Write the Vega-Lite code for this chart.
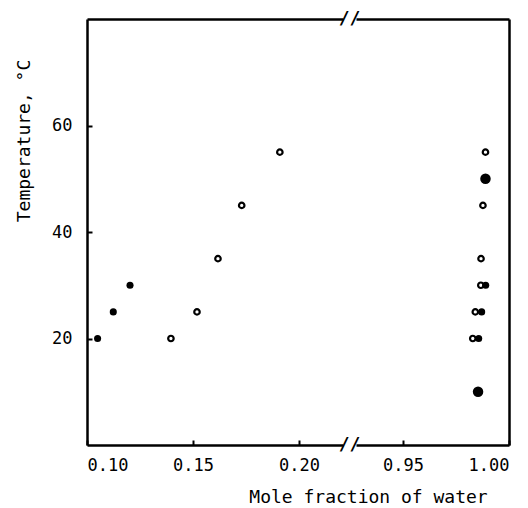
{
  "$schema": "https://vega.github.io/schema/vega-lite/v6.json",
  "padding": {"left": 14, "top": 10, "right": 5, "bottom": 0},
  "background": "white",
  "config": {
    "view": {"stroke": null},
    "font": "DejaVu Sans Mono",
    "axis": {
      "labelFont": "DejaVu Sans Mono",
      "titleFont": "DejaVu Sans Mono",
      "labelColor": "black",
      "titleColor": "black",
      "domainColor": "black",
      "tickColor": "black",
      "grid": false,
      "titleFontWeight": "normal",
      "labelFontWeight": "normal",
      "domainWidth": 2.5
    }
  },
  "datasets": {
    "left": [
      {"x": 0.1050, "t": 20, "kind": "filled"},
      {"x": 0.1124, "t": 25, "kind": "filled"},
      {"x": 0.1203, "t": 30, "kind": "filled"},
      {"x": 0.1396, "t": 20, "kind": "open"},
      {"x": 0.1519, "t": 25, "kind": "open"},
      {"x": 0.1618, "t": 35, "kind": "open"},
      {"x": 0.1730, "t": 45, "kind": "open"},
      {"x": 0.1910, "t": 55, "kind": "open"}
    ],
    "right": [
      {"x": 0.9889, "t": 55, "kind": "open"},
      {"x": 0.9889, "t": 50, "kind": "large"},
      {"x": 0.9877, "t": 45, "kind": "open"},
      {"x": 0.9868, "t": 35, "kind": "open"},
      {"x": 0.9867, "t": 30, "kind": "open"},
      {"x": 0.9890, "t": 30, "kind": "filled"},
      {"x": 0.9841, "t": 25, "kind": "open"},
      {"x": 0.9871, "t": 25, "kind": "filled"},
      {"x": 0.9829, "t": 20, "kind": "open"},
      {"x": 0.9857, "t": 20, "kind": "filled"},
      {"x": 0.9854, "t": 10, "kind": "large"}
    ]
  },
  "bounds": "flush",
  "spacing": 13,
  "hconcat": [
    {
      "width": 256,
      "height": 426,
      "resolve": {"axis": {"x": "independent", "y": "independent"}},
      "layer": [
        {
          "data": {"name": "left"},
          "transform": [{"filter": "datum.kind === 'open'"}],
          "mark": {"type": "point", "shape": "circle", "filled": false, "stroke": "black", "strokeWidth": 2.2, "size": 30, "opacity": 1},
          "encoding": {
            "x": {"field": "x", "type": "quantitative", "scale": {"domain": [0.10, 0.2208], "nice": false, "zero": false},
              "axis": {"orient": "bottom", "values": [0.10, 0.15, 0.20], "format": ".2f", "tickSize": -5, "tickWidth": 2, "labelFontSize": 17, "labelPadding": 17,
                "title": "Mole fraction of water", "titleFontSize": 18, "titleX": 281, "titleY": 57, "titleAlign": "center", "titleBaseline": "alphabetic"}},
            "y": {"field": "t", "type": "quantitative", "scale": {"domain": [0, 80], "nice": false},
              "axis": {"orient": "left", "values": [20, 40, 60], "tickSize": -5, "tickWidth": 2, "labelFontSize": 17, "labelPadding": 20,
                "title": "Temperature,  °C", "titleFontSize": 18, "titleX": -63, "titleY": 121.5, "titleAngle": -90, "titleAlign": "center", "titleBaseline": "middle"}}
          }
        },
        {
          "data": {"name": "left"},
          "transform": [{"filter": "datum.kind === 'filled'"}],
          "mark": {"type": "circle", "color": "black", "size": 50, "opacity": 1},
          "encoding": {
            "x": {"field": "x", "type": "quantitative", "axis": {"orient": "top", "ticks": false, "labels": false, "title": null}},
            "y": {"field": "t", "type": "quantitative", "axis": null}
          }
        },
        {
          "data": {"values": [{}]},
          "mark": {"type": "text", "text": "//", "font": "DejaVu Sans Mono", "fontSize": 18, "fontWeight": "bold", "dx": 6.5, "align": "center", "baseline": "middle", "color": "black"},
          "encoding": {
            "x": {"datum": 0.2208, "type": "quantitative", "axis": null},
            "y": {"datum": 80, "type": "quantitative", "axis": null}
          }
        },
        {
          "data": {"values": [{}]},
          "mark": {"type": "text", "text": "//", "font": "DejaVu Sans Mono", "fontSize": 18, "fontWeight": "bold", "dx": 6.5, "align": "center", "baseline": "middle", "color": "black"},
          "encoding": {
            "x": {"datum": 0.2208, "type": "quantitative", "axis": null},
            "y": {"datum": 0, "type": "quantitative", "axis": null}
          }
        }
      ]
    },
    {
      "width": 153,
      "height": 426,
      "data": {"name": "right"},
      "resolve": {"axis": {"x": "independent", "y": "independent"}},
      "layer": [
        {
          "transform": [{"filter": "datum.kind === 'open'"}],
          "mark": {"type": "point", "shape": "circle", "filled": false, "stroke": "black", "strokeWidth": 2.2, "size": 30, "opacity": 1},
          "encoding": {
            "x": {"field": "x", "type": "quantitative", "scale": {"domain": [0.9278, 1.00], "nice": false, "zero": false},
              "axis": {"orient": "bottom", "values": [0.95, 1.00], "format": ".2f", "tickSize": -5, "tickWidth": 2, "labelFontSize": 17, "labelPadding": 17, "title": null}},
            "y": {"field": "t", "type": "quantitative", "scale": {"domain": [0, 80], "nice": false},
              "axis": {"orient": "right", "ticks": false, "labels": false, "title": null}}
          }
        },
        {
          "transform": [{"filter": "datum.kind === 'filled'"}],
          "mark": {"type": "circle", "color": "black", "size": 50, "opacity": 1},
          "encoding": {
            "x": {"field": "x", "type": "quantitative", "axis": {"orient": "top", "ticks": false, "labels": false, "title": null}},
            "y": {"field": "t", "type": "quantitative", "axis": null}
          }
        },
        {
          "transform": [{"filter": "datum.kind === 'large'"}],
          "mark": {"type": "circle", "color": "black", "size": 110, "opacity": 1},
          "encoding": {
            "x": {"field": "x", "type": "quantitative", "axis": null},
            "y": {"field": "t", "type": "quantitative", "axis": null}
          }
        }
      ]
    }
  ]
}
